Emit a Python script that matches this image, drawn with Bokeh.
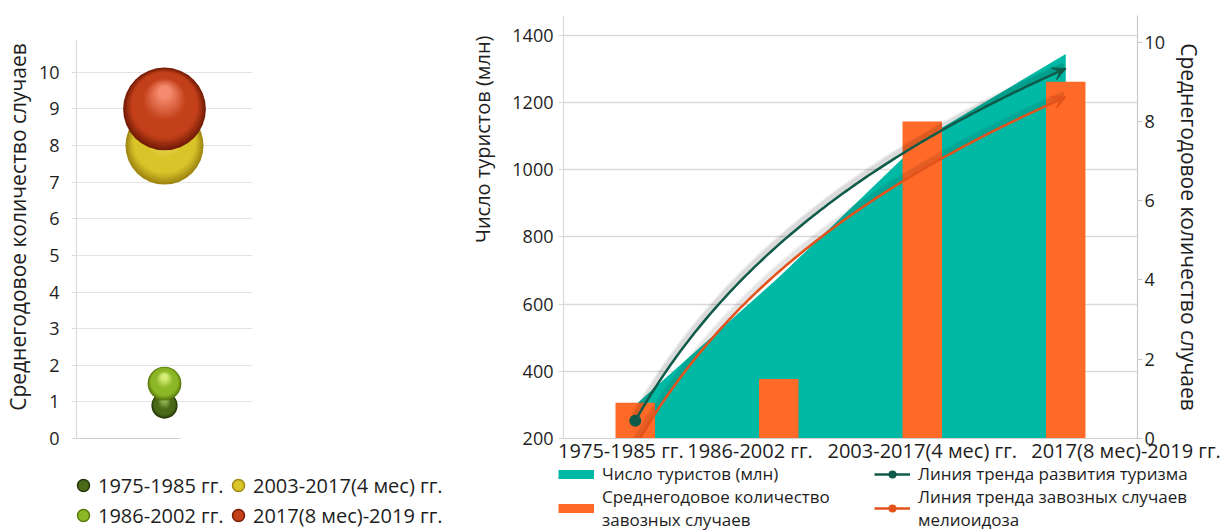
import numpy as np
from bokeh.plotting import figure
from bokeh.models import (Range1d, LinearAxis, FixedTicker, Legend, LegendItem, Title, Arrow,
                          VeeHead)
from bokeh.layouts import row, column
from bokeh.embed import file_html
from bokeh.resources import INLINE

FONT = "Open Sans"
INK = "#1e1e1e"
GRID = "#d9d9d9"
TEAL = "#00b9a5"
ORANGE = "#ff6a28"
TREND_GREEN = "#0f5a49"
TREND_ORANGE = "#e4521c"

# ---- data ----
periods = ["1975-1985 гг.", "1986-2002 гг.", "2003-2017(4 мес) гг.", "2017(8 мес)-2019 гг."]
cases_per_year = [0.9, 1.5, 8.0, 9.0]        # среднегодовое количество завозных случаев
tourists_mln = [300, 680, 1090, 1345]        # число туристов, млн
bubble_x = [1, 1, 1, 1]
bubble_ticks = list(range(0, 11))
cases_ticks = [0, 2, 4, 6, 8, 10]
tourist_ticks = [200, 400, 600, 800, 1000, 1200, 1400]

# rim, body, highlight of each sphere
sphere_palette = [
    ("#24360a", "#4b6a19", "#93b250"),
    ("#587a0c", "#8cb727", "#d6ee78"),
    ("#a08812", "#d9c42a", "#f8ee88"),
    ("#761d07", "#c3401a", "#f58a6e"),
]


def mix(c1, c2, t):
    a = [int(c1[i:i + 2], 16) for i in (1, 3, 5)]
    b = [int(c2[i:i + 2], 16) for i in (1, 3, 5)]
    return "#%02x%02x%02x" % tuple(round(x + (y - x) * t) for x, y in zip(a, b))


def shade(pal, t):
    if t < 0.22:
        return mix(pal[0], pal[1], t / 0.22)
    if t < 0.55:
        return pal[1]
    return mix(pal[1], pal[2], (t - 0.55) / 0.45)


W_LEFT, W_RIGHT, W_ALL = 452, 775, 1227
H_CHART, H_KEYS = 466, 66
TOP, BOTTOM = 15, 27
FRAME_H = H_CHART - TOP - BOTTOM


def style_axis(ax, color=GRID):
    ax.axis_line_color = color
    ax.axis_line_width = 1.2
    ax.major_tick_line_color = color
    ax.major_tick_out = 5
    ax.major_tick_in = 0
    ax.minor_tick_out = 0
    ax.minor_tick_in = 0
    ax.major_label_text_font = FONT
    ax.major_label_text_font_size = "18px"
    ax.major_label_text_color = INK
    ax.axis_label_text_font = FONT
    ax.axis_label_text_font_style = "normal"
    ax.axis_label_text_color = INK


# ================= bubble chart =================
px_per_case = 36.7
bub_top = FRAME_H / px_per_case
pl = figure(width=W_LEFT, height=H_CHART, x_range=Range1d(0, 2), y_range=Range1d(0, bub_top),
            output_backend="svg", toolbar_location=None,
            min_border_left=72, min_border_right=W_LEFT - 252, min_border_top=TOP,
            min_border_bottom=BOTTOM)
pl.outline_line_color = None
pl.xgrid.visible = False
pl.ygrid.ticker = FixedTicker(ticks=bubble_ticks[1:])
pl.ygrid.grid_line_color = "#e4e4e4"
pl.ygrid.grid_line_width = 1.2
pl.yaxis.ticker = FixedTicker(ticks=bubble_ticks)
style_axis(pl.yaxis[0])
pl.yaxis.bounds = (0, 10.88)
pl.yaxis.major_label_standoff = 12
pl.yaxis.axis_label = "Среднегодовое количество случаев"
pl.yaxis.axis_label_text_font_size = "21px"
pl.yaxis.axis_label_standoff = 4
pl.xaxis.ticker = FixedTicker(ticks=[])
pl.xaxis.axis_line_color = "#cfcfcf"
pl.xaxis.major_tick_out = 0
pl.xaxis.bounds = (0, 1.18)

bubble_scale = 13.8  # radius in px per sqrt(value)
n_layers = 22
layer_t = np.linspace(0, 1, n_layers)

for bx, v, pal in zip(bubble_x, cases_per_year, sphere_palette):
    r = bubble_scale * np.sqrt(v)
    radii = r * (1 - 0.84 * layer_t)
    lift = r * 0.40 * layer_t / px_per_case
    pl.scatter(x=[bx] * n_layers, y=v + lift, size=2 * radii, marker="circle",
               fill_color=[shade(pal, t) for t in layer_t], line_color=None)

# ================= tourism / cases chart =================
px_per_tourist = 404 / 1200
tour_top = tourist_ticks[0] + FRAME_H / px_per_tourist
px_per_cases = 39.73
cases_top = FRAME_H / px_per_cases

n_per = len(periods)
cat_pos = [i + 0.5 for i in range(n_per)]   # centre of each period slot

pr = figure(width=W_RIGHT, height=H_CHART, x_range=Range1d(0, n_per),
            y_range=Range1d(tourist_ticks[0], tour_top),
            output_backend="svg", toolbar_location=None,
            min_border_left=W_RIGHT - 666, min_border_right=90, min_border_top=TOP,
            min_border_bottom=BOTTOM)
pr.extra_y_ranges = {"cases": Range1d(0, cases_top)}
pr.outline_line_color = None
pr.xgrid.visible = False
pr.ygrid.ticker = FixedTicker(ticks=tourist_ticks)
pr.ygrid.grid_line_color = GRID
pr.ygrid.grid_line_width = 1.5
pr.yaxis.ticker = FixedTicker(ticks=tourist_ticks)
style_axis(pr.yaxis[0])
pr.yaxis.major_label_standoff = 5

pr.add_layout(Title(text="Число туристов (млн)", align="right", offset=20, standoff=28,
                    text_font=FONT, text_font_size="20px", text_font_style="normal",
                    text_color=INK), "left")

ax_r = LinearAxis(y_range_name="cases", ticker=FixedTicker(ticks=cases_ticks))
style_axis(ax_r, "#c8c8c8")
ax_r.major_label_standoff = 2
pr.add_layout(ax_r, "right")
pr.add_layout(Title(text="Среднегодовое количество случаев", align="center", standoff=12,
                    text_font=FONT, text_font_size="21px", text_font_style="normal",
                    text_color=INK), "right")

# period labels along the bottom axis
label_pos = [0.40, 1.30, 2.5, 3.92]
ax_x = pr.xaxis[0]
ax_x.ticker = FixedTicker(ticks=label_pos)
ax_x.major_label_overrides = {p: t for p, t in zip(label_pos, periods)}
style_axis(ax_x, "#d0d0d0")
ax_x.major_tick_out = 0
ax_x.major_label_standoff = -2
ax_x.major_label_text_font_size = "20px"

pr.varea(x=cat_pos, y1=tourist_ticks[0], y2=tourists_mln, fill_color=TEAL)
pr.vbar(x=cat_pos, top=cases_per_year, width=0.275, fill_color=ORANGE, line_color=None,
        y_range_name="cases")

# logarithmic trend lines over the four periods
idx = np.arange(1, n_per + 1)
xs = np.linspace(1, n_per, 160)
pos = xs - 0.5
px_per_cat = 576 / n_per


def log_trend(vals):
    b, a = np.polyfit(np.log(idx), vals, 1)
    return a + b * np.log(xs)


trend_t = log_trend(tourists_mln)
trend_c = log_trend(cases_per_year)

for w, al in ((8, 0.06), (5, 0.09)):
    pr.line(pos - 1.5 / px_per_cat, trend_t + 3 / px_per_tourist, line_color="black",
            line_width=w, line_alpha=al)
    pr.line(pos - 1.5 / px_per_cat, trend_c + 3 / px_per_cases, line_color="black",
            line_width=w, line_alpha=al * 0.7, y_range_name="cases")

pr.line(pos, trend_t, line_color=TREND_GREEN, line_width=2.5)
pr.line(pos, trend_c, line_color=TREND_ORANGE, line_width=2.5, y_range_name="cases")
pr.scatter(x=[pos[0]], y=[trend_t[0]], size=12, marker="circle",
           fill_color=TREND_GREEN, line_color=None)
pr.scatter(x=[pos[0]], y=[trend_c[0]], size=12, marker="circle",
           fill_color=TREND_ORANGE, line_color=None, y_range_name="cases")

pr.add_layout(Arrow(end=VeeHead(size=13, fill_color=TREND_GREEN, line_color=TREND_GREEN),
                    x_start=pos[-4], y_start=trend_t[-4], x_end=pos[-1], y_end=trend_t[-1],
                    line_color=TREND_GREEN, line_width=2.5))
pr.add_layout(Arrow(end=VeeHead(size=13, fill_color=TREND_ORANGE, line_color=TREND_ORANGE),
                    x_start=pos[-4], y_start=trend_c[-4], x_end=pos[-1], y_end=trend_c[-1],
                    line_color=TREND_ORANGE, line_width=2.5, y_range_name="cases"))

# ================= legend strip =================
pk = figure(width=W_ALL, height=H_KEYS, x_range=Range1d(0, 1), y_range=Range1d(0, 1),
            output_backend="svg", toolbar_location=None, x_axis_location=None,
            y_axis_location=None, min_border=0)
pk.outline_line_color = None
pk.grid.visible = False

# key proxies: they sit outside the visible range, only their legend swatches show
off_x, off_y = [-3, -2], [-3, -2]
sphere_keys = [pk.scatter(x=off_x, y=off_y, marker="circle", fill_color=pal[1], line_color=pal[0],
                          line_width=1.5) for pal in sphere_palette]
key_area = pk.line(x=off_x, y=off_y, line_color=TEAL, line_width=9)
key_bars = pk.line(x=off_x, y=off_y, line_color=ORANGE, line_width=9)
key_trend_t = [pk.line(x=off_x, y=off_y, line_color=TREND_GREEN, line_width=2.5),
               pk.scatter(x=off_x, y=off_y, marker="circle", fill_color=TREND_GREEN,
                          line_color=None)]
key_trend_c = [pk.line(x=off_x, y=off_y, line_color=TREND_ORANGE, line_width=2.5),
               pk.scatter(x=off_x, y=off_y, marker="circle", fill_color=TREND_ORANGE,
                          line_color=None)]


def key_legend(items, loc, size, **kw):
    lg = Legend(items=items, location=loc, orientation="vertical", spacing=0, padding=0,
                margin=0, background_fill_alpha=0, border_line_alpha=0, label_text_font=FONT,
                label_text_font_size=size, label_text_color=INK, **kw)
    pk.add_layout(lg)


sphere_opts = dict(glyph_width=30, glyph_height=30, label_height=30, label_standoff=0)
key_legend([LegendItem(label=periods[0], renderers=[sphere_keys[0]]),
            LegendItem(label=periods[1], renderers=[sphere_keys[1]])], (68, 2), "20px",
           **sphere_opts)
key_legend([LegendItem(label=periods[2], renderers=[sphere_keys[2]]),
            LegendItem(label=periods[3], renderers=[sphere_keys[3]])], (223, 2), "20px",
           **sphere_opts)

series_opts = dict(glyph_width=36, glyph_height=20, label_height=20, label_standoff=8,
                   label_text_line_height=0.9)
key_legend([LegendItem(label="Число туристов (млн)", renderers=[key_area]),
            LegendItem(label="Среднегодовое количество\nзавозных случаев", renderers=[key_bars])],
           (558, 1), "17px", **series_opts)
key_legend([LegendItem(label="Линия тренда развития туризма", renderers=key_trend_t),
            LegendItem(label="Линия тренда завозных случаев\nмелиоидоза", renderers=key_trend_c)],
           (874, 1), "17px", **series_opts)

layout = column(row(pl, pr), pk)
open("out.html", "w").write(file_html(layout, INLINE))
